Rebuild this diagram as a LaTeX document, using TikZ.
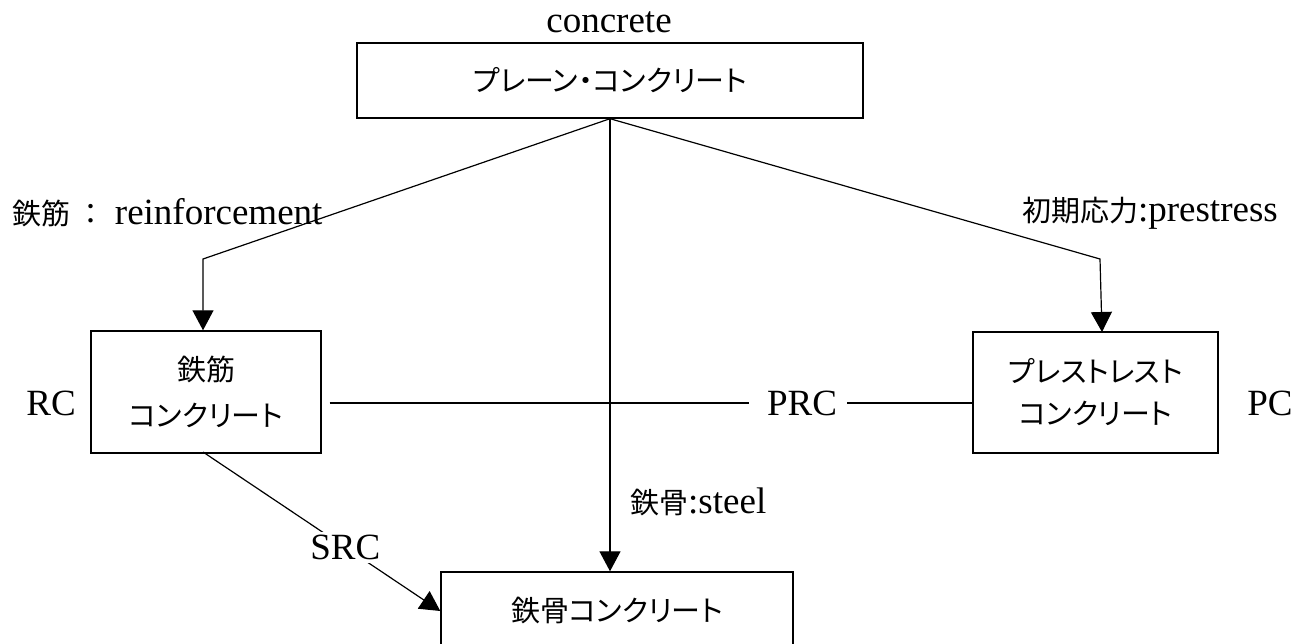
\documentclass[tikz,border=0pt]{standalone}
\usepackage{fontspec}
\setmainfont{Liberation Serif}
\newfontfamily\jp[RawFeature=+palt]{Noto Sans CJK JP}
\newfontfamily\jpm{Noto Sans CJK JP}
\usetikzlibrary{arrows.meta}
\tikzset{
  box/.style={draw, line width=1.4pt, inner sep=0pt, align=center},
  jtext/.style={font=\jp\fontsize{29}{46}\selectfont},
  ltext/.style={font=\fontsize{37}{40}\selectfont, inner sep=0pt},
  conn/.style={line width=1.2pt},
  arr/.style={conn, -{Triangle[width=21pt,length=20pt]}}
}
\begin{document}
\begin{tikzpicture}[x=1pt,y=-1pt]
\useasboundingbox (0,0) rectangle (1311,644);
% boxes
\node[box, jtext, minimum width=506pt, minimum height=75pt] (top) at (610,80.5) {プレーン・コンクリート};
\node[box, jtext, minimum width=230pt, minimum height=122pt] (rc) at (206,392) {鉄筋\\コンクリート};
\node[box, font=\jp\fontsize{29}{42}\selectfont, minimum width=245pt, minimum height=121pt] (pc) at (1095.5,392.5) {プレストレスト\\コンクリート};
\node[box, jtext, minimum width=352pt, minimum height=78pt] (steel) at (617,611) {鉄骨コンクリート};
% labels
\node[ltext] (lconc) at (609,22) {concrete};
\node[anchor=west, inner sep=0pt] (lreinf) at (12,213) {{\jpm\fontsize{29}{40}\selectfont 鉄筋 ：}\fontsize{37}{40}\selectfont\ reinforcement};
\node[anchor=east, inner sep=0pt] (lpre) at (1278,213) {{\jp\fontsize{29}{40}\selectfont 初期応力}\fontsize{37}{40}\selectfont :prestress};
\node[anchor=west, inner sep=0pt] (lsteel) at (630,502) {{\jp\fontsize{29}{40}\selectfont 鉄骨}\fontsize{37}{40}\selectfont :steel};
\node[ltext] (lrc) at (51,403) {RC};
\node[ltext] (lpc) at (1270,403) {PC};
\node[ltext] (prc) at (802,403) {PRC};
% coordinates
\coordinate (cl) at (203,259);
\coordinate (cr) at (1100,259);
\coordinate (pcin) at (1102,332);
\coordinate (rcout) at (203,452);
% connectors
\draw[arr] (top.south) -- (cl) -- (cl |- rc.north);
\draw[arr] (top.south) -- (cr) -- (pcin);
\draw[arr] (top.south) -- (top.south |- steel.north);
\draw[conn, shorten <=8pt, shorten >=18pt] (rc.east |- prc) -- (prc.west);
\draw[conn, shorten <=10pt] (prc.east) -- (prc.east -| pc.west);
\draw[arr] (rcout) -- node[pos=0.6, ltext, fill=white, inner sep=3pt] (lsrc) {SRC} (steel.west);
\end{tikzpicture}
\end{document}
